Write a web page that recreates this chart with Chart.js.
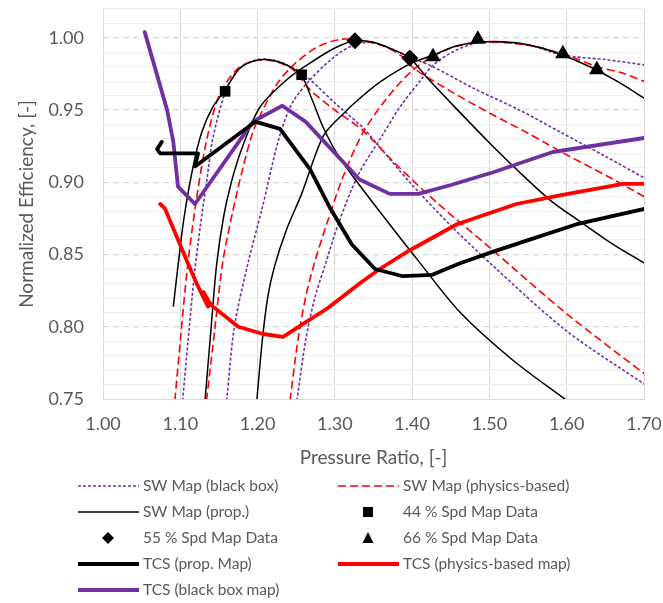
<!DOCTYPE html>
<html>
<head>
<meta charset="utf-8">
<script src="https://cdn.jsdelivr.net/npm/chart.js@4.4.0/dist/chart.umd.min.js"></script>
<style>
  html, body { margin: 0; padding: 0; background: #fff; }
</style>
</head>
<body>
<canvas id="chart" width="663" height="603"></canvas>
<script>
// speed lines of the SW maps, [pressure ratio, normalized efficiency]
const swProp44 = [[1.091,0.814],[1.097,0.842],[1.105,0.876],[1.117,0.912],[1.128,0.935],[1.142,0.952],[1.158,0.964],[1.177,0.979],[1.195,0.984],[1.212,0.985],[1.230,0.983],[1.245,0.979],[1.257,0.974],[1.270,0.958],[1.285,0.938],[1.305,0.918],[1.332,0.898],[1.365,0.875],[1.406,0.847],[1.462,0.810],[1.530,0.777],[1.600,0.749]];
const swProp55 = [[1.132,0.749],[1.140,0.800],[1.147,0.843],[1.156,0.876],[1.166,0.900],[1.180,0.924],[1.203,0.952],[1.240,0.972],[1.272,0.984],[1.300,0.993],[1.326,0.998],[1.350,0.997],[1.375,0.992],[1.397,0.986],[1.420,0.972],[1.450,0.955],[1.497,0.929],[1.539,0.907],[1.580,0.887],[1.617,0.873],[1.660,0.857],[1.704,0.843]];
const swProp66 = [[1.199,0.749],[1.206,0.790],[1.213,0.820],[1.222,0.842],[1.238,0.868],[1.257,0.892],[1.285,0.932],[1.310,0.947],[1.332,0.958],[1.360,0.970],[1.401,0.983],[1.427,0.988],[1.455,0.994],[1.485,0.997],[1.527,0.997],[1.560,0.994],[1.595,0.988],[1.630,0.980],[1.665,0.970],[1.704,0.957]];

const swPhys44 = [[1.093,0.749],[1.100,0.790],[1.109,0.840],[1.120,0.885],[1.134,0.929],[1.151,0.961],[1.173,0.978],[1.194,0.984],[1.220,0.984],[1.246,0.978],[1.268,0.964],[1.300,0.950],[1.336,0.936],[1.380,0.912],[1.432,0.886],[1.500,0.855],[1.600,0.809],[1.704,0.766]];
const swPhys55 = [[1.134,0.749],[1.145,0.800],[1.155,0.845],[1.168,0.880],[1.181,0.910],[1.194,0.935],[1.203,0.946],[1.225,0.968],[1.246,0.981],[1.275,0.993],[1.307,0.999],[1.335,0.998],[1.365,0.994],[1.390,0.986],[1.402,0.979],[1.450,0.963],[1.500,0.948],[1.550,0.934],[1.600,0.919],[1.650,0.905],[1.704,0.889]];
const swPhys66 = [[1.242,0.749],[1.252,0.790],[1.262,0.820],[1.274,0.845],[1.290,0.872],[1.310,0.903],[1.336,0.934],[1.370,0.960],[1.406,0.980],[1.450,0.993],[1.490,0.997],[1.550,0.995],[1.600,0.988],[1.640,0.980],[1.670,0.976],[1.704,0.969]];

const swBB44 = [[1.103,0.749],[1.110,0.790],[1.118,0.835],[1.126,0.870],[1.134,0.900],[1.142,0.930],[1.158,0.962],[1.175,0.978],[1.200,0.985],[1.225,0.984],[1.250,0.978],[1.268,0.971],[1.300,0.955],[1.336,0.938],[1.354,0.927],[1.397,0.900],[1.450,0.870],[1.505,0.842],[1.600,0.797],[1.704,0.759]];
const swBB55 = [[1.160,0.749],[1.170,0.800],[1.188,0.845],[1.205,0.880],[1.228,0.931],[1.245,0.955],[1.268,0.971],[1.295,0.985],[1.320,0.994],[1.345,0.997],[1.370,0.993],[1.400,0.986],[1.427,0.980],[1.480,0.965],[1.539,0.950],[1.591,0.935],[1.650,0.918],[1.704,0.902]];
const swBB66 = [[1.251,0.749],[1.262,0.790],[1.274,0.820],[1.287,0.842],[1.305,0.872],[1.330,0.905],[1.362,0.933],[1.384,0.952],[1.410,0.970],[1.427,0.981],[1.455,0.991],[1.490,0.997],[1.550,0.995],[1.595,0.988],[1.650,0.985],[1.704,0.981]];

// measured map points
const spd44 = [[1.158,0.963],[1.257,0.9745]];
const spd55 = [[1.326,0.998],[1.397,0.986]];
const spd66 = [[1.427,0.987],[1.485,0.999],[1.595,0.989],[1.639,0.978]];

// TCS operating lines
const tcsProp = [[1.076,0.928],[1.070,0.923],[1.074,0.920],[1.123,0.920],[1.119,0.911],[1.197,0.942],[1.229,0.937],[1.268,0.909],[1.294,0.882],[1.322,0.857],[1.352,0.840],[1.388,0.835],[1.426,0.836],[1.462,0.844],[1.505,0.852],[1.556,0.861],[1.613,0.871],[1.704,0.882]];
const tcsPhys = [[1.074,0.885],[1.080,0.882],[1.109,0.845],[1.122,0.829],[1.136,0.814],[1.130,0.824],[1.140,0.815],[1.175,0.800],[1.207,0.795],[1.233,0.793],[1.259,0.802],[1.291,0.813],[1.332,0.830],[1.358,0.840],[1.397,0.853],[1.458,0.871],[1.535,0.885],[1.591,0.891],[1.673,0.899],[1.704,0.899]];
const tcsBB = [[1.054,1.004],[1.083,0.950],[1.091,0.928],[1.097,0.897],[1.119,0.885],[1.194,0.942],[1.232,0.953],[1.262,0.942],[1.332,0.902],[1.371,0.892],[1.408,0.892],[1.449,0.898],[1.505,0.907],[1.582,0.921],[1.704,0.931]];

const PURPLE = '#7030A0';
const RED = '#FF0000';
const GREY_TEXT = '#595959';

const pts = arr => arr.map(p => ({ x: p[0], y: p[1] }));

function mapLine(label, data, color, dash, width) {
    return { label, data: pts(data), showLine: true, borderColor: color, borderWidth: width,
             borderDash: dash, pointRadius: 0, tension: 0.3, fill: false };
}
function tcsLine(label, data, color) {
    return { label, data: pts(data), showLine: true, borderColor: color, borderWidth: 3.8,
             pointRadius: 0, tension: 0, fill: false, borderJoinStyle: 'round', borderCapStyle: 'round' };
}
function marks(label, data, style, r) {
    return { label, data: pts(data), showLine: false, pointStyle: style, pointRadius: r,
             backgroundColor: '#000', borderColor: '#000', borderWidth: 0 };
}

const datasets = [
    marks('44 % Spd Map Data', spd44, 'rect', 7.5),
    marks('55 % Spd Map Data', spd55, 'rectRot', 8.5),
    marks('66 % Spd Map Data', spd66, 'triangle', 9),
    tcsLine('TCS (prop. Map)', tcsProp, '#000'),
    tcsLine('TCS (black box map)', tcsBB, PURPLE),
    tcsLine('TCS (physics-based map)', tcsPhys, RED),
    mapLine('SW Map (prop.)', swProp44, '#000', [], 1.5),
    mapLine('SW Map (prop.)', swProp55, '#000', [], 1.5),
    mapLine('SW Map (prop.)', swProp66, '#000', [], 1.5),
    mapLine('SW Map (physics-based)', swPhys44, RED, [8, 4], 1.6),
    mapLine('SW Map (physics-based)', swPhys55, RED, [8, 4], 1.6),
    mapLine('SW Map (physics-based)', swPhys66, RED, [8, 4], 1.6),
    mapLine('SW Map (black box)', swBB44, PURPLE, [3, 2], 1.6),
    mapLine('SW Map (black box)', swBB55, PURPLE, [3, 2], 1.6),
    mapLine('SW Map (black box)', swBB66, PURPLE, [3, 2], 1.6)
];

// two-column legend under the plot, like the original
const legendRows = [
    [{ text: 'SW Map (black box)', line: [PURPLE, 1.6, [3, 2]] }, { text: 'SW Map (physics-based)', line: [RED, 1.6, [8, 4]] }],
    [{ text: 'SW Map (prop.)', line: ['#000', 1.5, []] }, { text: '44 % Spd Map Data', mark: 'square' }],
    [{ text: '55 % Spd Map Data', mark: 'diamond' }, { text: '66 % Spd Map Data', mark: 'triangle' }],
    [{ text: 'TCS (prop. Map)', line: ['#000', 4, []] }, { text: 'TCS (physics-based map)', line: [RED, 4, []] }],
    [{ text: 'TCS (black box map)', line: [PURPLE, 4, []] }]
];

const legendPlugin = {
    id: 'twoColLegend',
    afterDraw(chart) {
        const ctx = chart.ctx;
        const cols = [78, 338];
        ctx.save();
        legendRows.forEach((row, r) => {
            const y = 486 + r * 26;
            row.forEach((item, c) => {
                const x0 = cols[c];
                if (item.line) {
                    ctx.strokeStyle = item.line[0];
                    ctx.lineWidth = item.line[1];
                    ctx.setLineDash(item.line[2]);
                    ctx.beginPath();
                    ctx.moveTo(x0, y);
                    ctx.lineTo(x0 + 61, y);
                    ctx.stroke();
                    ctx.setLineDash([]);
                } else {
                    const cx = x0 + 30;
                    ctx.fillStyle = '#000';
                    ctx.beginPath();
                    if (item.mark === 'square') {
                        ctx.rect(cx - 5, y - 5, 10, 10);
                    } else if (item.mark === 'diamond') {
                        ctx.moveTo(cx, y - 6); ctx.lineTo(cx + 6, y); ctx.lineTo(cx, y + 6); ctx.lineTo(cx - 6, y);
                    } else {
                        ctx.moveTo(cx, y - 6); ctx.lineTo(cx + 5.5, y + 5); ctx.lineTo(cx - 5.5, y + 5);
                    }
                    ctx.closePath();
                    ctx.fill();
                }
                ctx.fillStyle = GREY_TEXT;
                ctx.font = '15.5px Lato';
                ctx.textAlign = 'left';
                ctx.textBaseline = 'middle';
                ctx.fillText(item.text, x0 + 65, y);
            });
        });
        ctx.restore();
    }
};

const isMajor = v => Math.round(v * 100) % 5 === 0;

Chart.defaults.font.family = 'Lato';
Chart.defaults.color = GREY_TEXT;

new Chart(document.getElementById('chart'), {
    type: 'scatter',
    data: { datasets },
    options: {
        responsive: false,
        animation: false,
        layout: { padding: { left: 0, right: 19, top: 7, bottom: 126 } },
        plugins: { legend: { display: false }, tooltip: { enabled: false } },
        scales: {
            x: {
                type: 'linear', min: 1.0, max: 1.7,
                ticks: { stepSize: 0.1, padding: 14, font: { size: 18 }, callback: v => v.toFixed(2) },
                grid: { color: '#D9D9D9', lineWidth: 1, drawTicks: false },
                border: { display: true, color: '#D9D9D9', width: 1 },
                title: { display: true, text: 'Pressure Ratio, [-]', font: { size: 19 }, padding: { top: 0, bottom: 8 } },
                afterFit(s) { s.height = 78; s.paddingLeft = 0; s.paddingRight = 0; }
            },
            yMinor: {
                type: 'linear', position: 'left', min: 0.75, max: 1.02,
                ticks: { stepSize: 0.01, display: false, maxTicksLimit: 100 },
                grid: { drawTicks: false, lineWidth: 1.3,
                        color: c => (c.tick && isMajor(c.tick.value)) ? 'rgba(0,0,0,0)' : '#EFEFEF' },
                border: { display: false },
                afterFit(s) { s.width = 0; s.paddingTop = 0; s.paddingBottom = 0; }
            },
            y: {
                type: 'linear', position: 'left', min: 0.75, max: 1.02,
                ticks: { stepSize: 0.05, includeBounds: false, padding: 19, font: { size: 18 }, callback: v => v.toFixed(2) },
                grid: { color: c => (c.tick && Math.abs(c.tick.value - 0.75) < 1e-6) ? 'rgba(0,0,0,0)' : '#D9D9D9', lineWidth: 1.3, drawTicks: false },
                border: { display: false, dash: [6, 4] },
                title: { display: true, text: 'Normalized Efficiency, [-]', font: { size: 19 }, padding: { top: 15, bottom: 0 } },
                afterFit(s) { s.width = 103; s.paddingTop = 0; s.paddingBottom = 0; }
            }
        }
    },
    plugins: [legendPlugin]
});
</script>
</body>
</html>
